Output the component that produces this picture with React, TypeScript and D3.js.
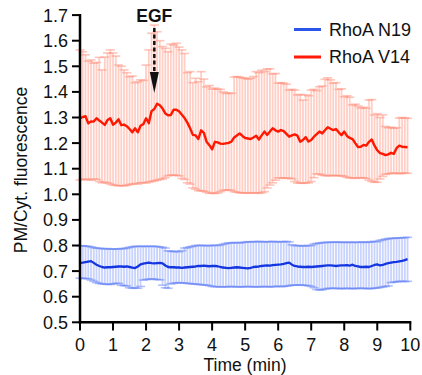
import React from "react";
import * as d3 from "d3";

const sampleIntervalSec = 5;

const redMean = [
  1.297,1.302,1.305,1.277,1.285,1.284,1.297,1.288,1.280,1.271,
  1.290,1.297,1.272,1.280,1.293,1.270,1.272,1.266,1.255,1.242,
  1.258,1.242,1.268,1.274,1.297,1.278,1.325,1.333,1.354,1.348,
  1.335,1.316,1.309,1.310,1.330,1.330,1.324,1.311,1.298,1.280,
  1.258,1.232,1.230,1.216,1.250,1.240,1.205,1.192,1.176,1.205,
  1.203,1.198,1.197,1.199,1.201,1.206,1.222,1.230,1.238,1.228,
  1.220,1.218,1.216,1.222,1.229,1.214,1.230,1.245,1.232,1.245,
  1.258,1.250,1.245,1.251,1.247,1.236,1.225,1.230,1.234,1.229,
  1.205,1.212,1.223,1.206,1.212,1.225,1.235,1.245,1.238,1.250,
  1.262,1.256,1.251,1.255,1.242,1.231,1.245,1.228,1.220,1.216,
  1.200,1.185,1.186,1.193,1.190,1.205,1.214,1.190,1.172,1.161,
  1.158,1.153,1.156,1.162,1.158,1.180,1.190,1.186,1.185,1.184,
];
const redHigh = [
  1.564,1.557,1.545,1.52,1.525,1.512,1.515,1.535,1.486,1.536,
  1.552,1.564,1.552,1.54,1.505,1.50,1.486,1.475,1.459,1.462,
  1.436,1.44,1.447,1.445,1.505,1.564,1.629,1.661,1.635,1.60,
  1.577,1.570,1.557,1.587,1.583,1.59,1.575,1.564,1.55,1.475,
  1.479,1.436,1.453,1.44,1.479,1.45,1.42,1.425,1.411,1.415,
  1.411,1.41,1.40,1.394,1.396,1.394,1.458,1.46,1.458,1.455,
  1.453,1.45,1.453,1.46,1.479,1.475,1.485,1.479,1.49,1.49,
  1.47,1.472,1.434,1.436,1.434,1.43,1.407,1.41,1.407,1.388,
  1.39,1.368,1.388,1.385,1.407,1.41,1.405,1.42,1.423,1.449,
  1.455,1.447,1.434,1.436,1.41,1.412,1.381,1.385,1.379,1.349,
  1.352,1.345,1.337,1.34,1.336,1.368,1.37,1.31,1.315,1.30,
  1.31,1.265,1.26,1.262,1.258,1.26,1.298,1.30,1.298,1.297,
];
const redLow = [
  1.056,1.058,1.06,1.057,1.055,1.06,1.058,1.05,1.045,1.047,
  1.044,1.04,1.036,1.035,1.033,1.034,1.033,1.035,1.038,1.04,
  1.042,1.04,1.045,1.046,1.044,1.048,1.05,1.052,1.055,1.058,
  1.06,1.065,1.072,1.075,1.075,1.074,1.072,1.062,1.058,1.045,
  1.04,1.025,1.02,1.014,1.014,1.012,1.008,1.004,1.004,1.003,
  1.005,1.01,1.015,1.017,1.017,1.015,1.01,1.008,1.006,1.005,
  1.006,1.004,1.006,1.005,1.006,1.004,1.006,1.01,1.025,1.036,
  1.045,1.055,1.064,1.064,1.062,1.064,1.063,1.06,1.05,1.044,
  1.044,1.043,1.044,1.045,1.05,1.065,1.08,1.078,1.075,1.073,
  1.072,1.073,1.074,1.073,1.072,1.073,1.07,1.066,1.064,1.064,
  1.062,1.064,1.065,1.064,1.062,1.055,1.05,1.047,1.047,1.06,
  1.07,1.078,1.08,1.082,1.083,1.082,1.08,1.082,1.083,1.082,
];

const blueMean = [
  0.732,0.733,0.735,0.737,0.739,0.732,0.725,0.72,0.716,0.714,
  0.715,0.715,0.716,0.717,0.718,0.718,0.717,0.718,0.716,0.714,
  0.712,0.718,0.726,0.729,0.731,0.733,0.731,0.73,0.731,0.732,
  0.73,0.722,0.716,0.715,0.715,0.714,0.714,0.713,0.714,0.715,
  0.716,0.717,0.718,0.72,0.72,0.721,0.72,0.719,0.72,0.72,
  0.719,0.716,0.714,0.713,0.712,0.713,0.714,0.715,0.714,0.713,
  0.712,0.711,0.713,0.716,0.717,0.718,0.72,0.721,0.722,0.721,
  0.723,0.724,0.725,0.726,0.728,0.731,0.733,0.725,0.72,0.718,
  0.717,0.716,0.716,0.717,0.716,0.717,0.718,0.719,0.72,0.721,
  0.722,0.722,0.721,0.72,0.721,0.722,0.722,0.723,0.721,0.725,
  0.72,0.718,0.716,0.716,0.717,0.716,0.72,0.724,0.726,0.722,
  0.724,0.728,0.731,0.733,0.735,0.736,0.738,0.74,0.743,0.747,
];
const blueHigh = [
  0.799,0.799,0.798,0.797,0.795,0.792,0.79,0.789,0.788,0.787,
  0.788,0.786,0.786,0.787,0.786,0.788,0.788,0.79,0.793,0.795,
  0.797,0.797,0.796,0.797,0.797,0.796,0.797,0.797,0.796,0.795,
  0.793,0.79,0.779,0.778,0.776,0.777,0.776,0.78,0.79,0.792,
  0.795,0.797,0.8,0.8,0.801,0.8,0.799,0.8,0.8,0.801,
  0.8,0.802,0.805,0.808,0.81,0.81,0.812,0.811,0.81,0.812,
  0.813,0.815,0.814,0.815,0.815,0.816,0.815,0.814,0.815,0.815,
  0.816,0.815,0.814,0.815,0.815,0.816,0.814,0.803,0.8,0.799,
  0.8,0.798,0.799,0.8,0.8,0.806,0.808,0.81,0.811,0.812,
  0.813,0.812,0.813,0.814,0.813,0.812,0.813,0.812,0.813,0.812,
  0.813,0.812,0.813,0.814,0.812,0.813,0.815,0.816,0.815,0.82,
  0.822,0.825,0.827,0.828,0.828,0.829,0.83,0.83,0.831,0.832,
];
const blueLow = [
  0.672,0.672,0.671,0.67,0.665,0.66,0.655,0.652,0.65,0.649,
  0.648,0.648,0.65,0.652,0.652,0.645,0.643,0.642,0.635,0.633,
  0.634,0.633,0.64,0.665,0.667,0.668,0.67,0.668,0.667,0.666,
  0.645,0.635,0.633,0.65,0.652,0.654,0.655,0.654,0.653,0.652,
  0.651,0.65,0.649,0.648,0.647,0.646,0.645,0.643,0.64,0.639,
  0.639,0.638,0.639,0.638,0.639,0.64,0.639,0.638,0.639,0.638,
  0.639,0.64,0.639,0.638,0.639,0.638,0.639,0.64,0.639,0.638,
  0.639,0.64,0.641,0.639,0.64,0.641,0.643,0.645,0.645,0.645,
  0.646,0.645,0.644,0.643,0.64,0.635,0.628,0.626,0.627,0.63,
  0.632,0.633,0.632,0.633,0.632,0.631,0.632,0.633,0.632,0.631,
  0.632,0.633,0.632,0.633,0.632,0.631,0.632,0.633,0.634,0.636,
  0.638,0.64,0.642,0.655,0.657,0.658,0.66,0.66,0.659,0.66,
];

const xTicks = [0, 1, 2, 3, 4, 5, 6, 7, 8, 9, 10];
const yTicks = [0.5, 0.6, 0.7, 0.8, 0.9, 1.0, 1.1, 1.2, 1.3, 1.4, 1.5, 1.6, 1.7];
const seriesNames = ["RhoA N19", "RhoA V14"];
const egfTime = 2.25;

const W = 422;
const H = 375;
const FONT = "'Liberation Sans', Arial, Helvetica, sans-serif";

type Series = { mean: number[]; high: number[]; low: number[] };

export default function App() {
  const x = d3.scaleLinear().domain([0, 10]).range([80, 410.3]);
  const y = d3.scaleLinear().domain([0.5, 1.7]).range([322.3, 15.1]);

  const toPts = (s: Series) =>
    s.mean.map((m, i) => ({
      t: (i * sampleIntervalSec) / 60,
      m,
      hi: s.high[i],
      lo: s.low[i],
    }));

  const red = toPts({ mean: redMean, high: redHigh, low: redLow });
  const blue = toPts({ mean: blueMean, high: blueHigh, low: blueLow });

  const line = d3
    .line<{ t: number; m: number }>()
    .x((d) => x(d.t))
    .y((d) => y(d.m));

  const capW = 4.5;

  const errBars = (
    pts: ReturnType<typeof toPts>,
    barColor: string,
    capColor: string,
    key: string
  ) => (
    <g key={key}>
      {pts.map((p, i) => (
        <line
          key={"v" + i}
          x1={x(p.t)}
          x2={x(p.t)}
          y1={y(p.hi)}
          y2={y(p.lo)}
          stroke={barColor}
          strokeWidth={1.8}
        />
      ))}
      {pts.map((p, i) => (
        <g key={"c" + i} stroke={capColor} strokeWidth={1.6} strokeOpacity={0.5}>
          <line x1={x(p.t) - capW} x2={x(p.t) + capW} y1={y(p.hi)} y2={y(p.hi)} />
          <line x1={x(p.t) - capW} x2={x(p.t) + capW} y1={y(p.lo)} y2={y(p.lo)} />
        </g>
      ))}
    </g>
  );

  const egfX = x(egfTime);

  return (
    <svg
      width={W}
      height={H}
      style={{ position: "absolute", left: 0, top: 0, background: "#fff" }}
      fontFamily={FONT}
    >
      {errBars(red, "rgba(255,175,160,0.6)", "rgb(255,140,120)", "rbars")}
      {errBars(blue, "rgba(165,182,252,0.62)", "rgb(100,130,245)", "bbars")}

      <path d={line(red) || ""} fill="none" stroke="#ff1800" strokeWidth={2.4} strokeLinejoin="round" />
      <path d={line(blue) || ""} fill="none" stroke="#1336e0" strokeWidth={2.3} strokeLinejoin="round" />

      {/* Y axis */}
      <line x1={80} x2={80} y1={y(1.7) - 1} y2={323.5} stroke="#000" strokeWidth={2.5} />
      {yTicks.map((t) => (
        <g key={"yt" + t}>
          <line x1={72} x2={80} y1={y(t)} y2={y(t)} stroke="#000" strokeWidth={2} />
          <text x={68} y={y(t)} dy="0.36em" textAnchor="end" fontSize={18} fill="#111">
            {t.toFixed(1)}
          </text>
        </g>
      ))}
      {/* X axis */}
      <line x1={78.8} x2={x(10) + 1} y1={322.3} y2={322.3} stroke="#000" strokeWidth={2.5} />
      {xTicks.map((t) => (
        <g key={"xt" + t}>
          <line x1={x(t)} x2={x(t)} y1={322.3} y2={330.5} stroke="#000" strokeWidth={2} />
          <text x={x(t)} y={351} textAnchor="middle" fontSize={18} fill="#111">
            {t}
          </text>
        </g>
      ))}
      <text x={245} y={371} textAnchor="middle" fontSize={17.5} fill="#111">
        Time (min)
      </text>
      <text
        transform={`translate(27,170) rotate(-90)`}
        textAnchor="middle"
        fontSize={17.5}
        fill="#111"
      >
        PM/Cyt. fluorescence
      </text>

      {/* EGF annotation */}
      <text x={egfX} y={22} textAnchor="middle" fontSize={17.5} fontWeight="bold" fill="#111">
        EGF
      </text>
      <line x1={egfX} x2={egfX} y1={28} y2={74} stroke="#111" strokeWidth={2.5} strokeDasharray="4,2.5" />
      <path d={`M${egfX - 4.5},72 L${egfX + 4.5},72 L${egfX},93 Z`} fill="#111" />

      {/* Legend */}
      <line x1={294} x2={321} y1={29.5} y2={29.5} stroke="#2a55e8" strokeWidth={3} />
      <text x={329} y={29.5} dy="0.36em" fontSize={18} fill="#111">
        {seriesNames[0]}
      </text>
      <line x1={294} x2={321} y1={57} y2={57} stroke="#ff1a0a" strokeWidth={3} />
      <text x={329} y={57} dy="0.36em" fontSize={18} fill="#111">
        {seriesNames[1]}
      </text>
    </svg>
  );
}
